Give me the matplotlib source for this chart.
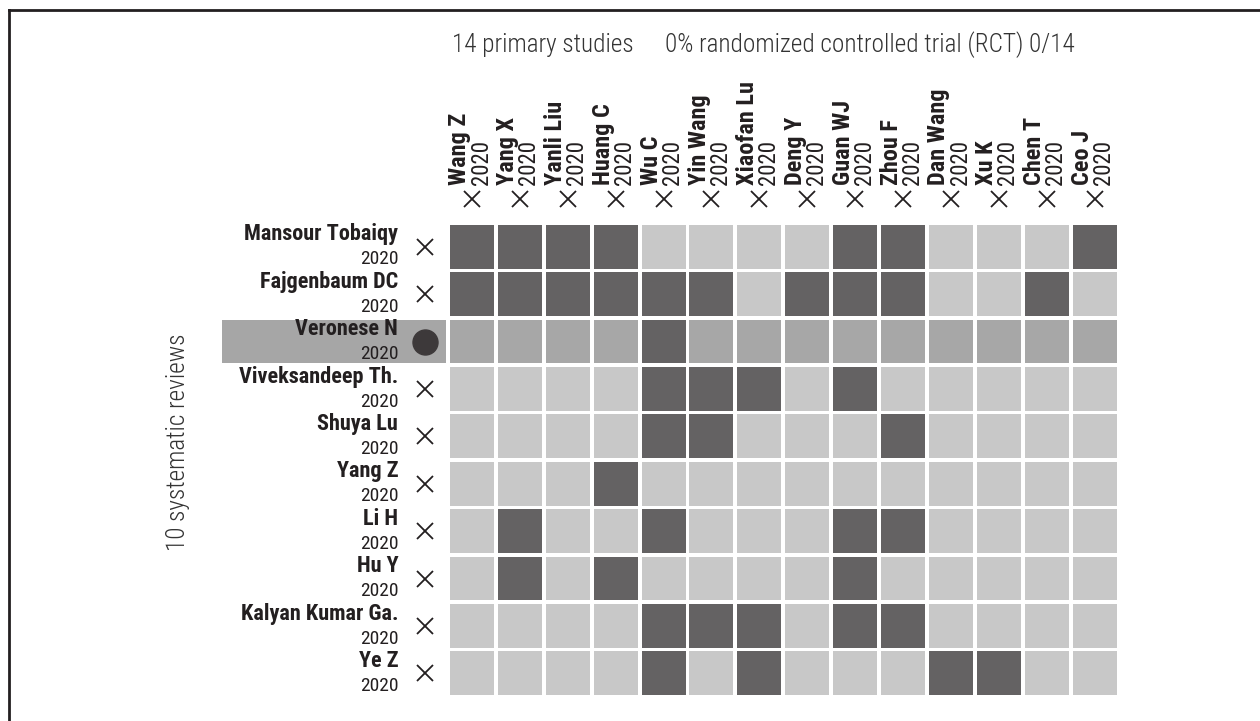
import numpy as np
import matplotlib.pyplot as plt
from matplotlib.patches import Rectangle
from matplotlib.lines import Line2D

plt.rcParams['font.family'] = ['Roboto Condensed', 'DejaVu Sans']

# primary studies (columns) and systematic reviews (rows)
studies = ["Wang Z", "Yang X", "Yanli Liu", "Huang C", "Wu C", "Yin Wang", "Xiaofan Lu",
           "Deng Y", "Guan WJ", "Zhou F", "Dan Wang", "Xu K", "Chen T", "Ceo J"]
study_years = ["2020"] * 14
reviews = ["Mansour Tobaiqy", "Fajgenbaum DC", "Veronese N", "Viveksandeep Th.", "Shuya Lu",
           "Yang Z", "Li H", "Hu Y", "Kalyan Kumar Ga.", "Ye Z"]
review_years = ["2020"] * 10
highlight_row = 2

# 1 = primary study included in the review
included = [
    [1, 1, 1, 1, 0, 0, 0, 0, 1, 1, 0, 0, 0, 1],
    [1, 1, 1, 1, 1, 1, 0, 1, 1, 1, 0, 0, 1, 0],
    [0, 0, 0, 0, 1, 0, 0, 0, 0, 0, 0, 0, 0, 0],
    [0, 0, 0, 0, 1, 1, 1, 0, 1, 0, 0, 0, 0, 0],
    [0, 0, 0, 0, 1, 1, 0, 0, 0, 1, 0, 0, 0, 0],
    [0, 0, 0, 1, 0, 0, 0, 0, 0, 0, 0, 0, 0, 0],
    [0, 1, 0, 0, 1, 0, 0, 0, 1, 1, 0, 0, 0, 0],
    [0, 1, 0, 1, 0, 0, 0, 0, 1, 0, 0, 0, 0, 0],
    [0, 0, 0, 0, 1, 1, 1, 0, 1, 1, 0, 0, 0, 0],
    [0, 0, 0, 0, 1, 0, 1, 0, 0, 0, 1, 1, 0, 0],
]

title_left = "14 primary studies"
title_right = "0% randomized controlled trial (RCT) 0/14"
side_label = "10 systematic reviews"

dark = "#646263"
light = "#c8c8c8"
mid = "#a7a7a7"
ink = "#231f20"

fig = plt.figure(figsize=(12.6, 7.21), dpi=100)
ax = fig.add_axes([448 / 1260, 1 - 697 / 721, 670.6 / 1260, 474 / 721])
ax.set_xlim(-0.5, len(studies) - 0.5)
ax.set_ylim(len(reviews) - 0.5, -0.5)
ax.axis('off')

s = 0.92
for i in range(len(reviews)):
    for j in range(len(studies)):
        if included[i][j]:
            c = dark
        elif i == highlight_row:
            c = mid
        else:
            c = light
        ax.add_patch(Rectangle((j - s / 2, i - s / 2), s, s, facecolor=c, edgecolor='none'))

# highlight band behind the selected review label
ax.add_patch(Rectangle((-5.22, highlight_row - s / 2), 4.68, s, facecolor="#a6a6a6",
                       edgecolor='none', clip_on=False))

# row labels and markers
for i, (name, yr) in enumerate(zip(reviews, review_years)):
    ax.text(-1.54, i - 0.26, name, ha='right', va='center', fontsize=16,
            fontweight='bold', color=ink)
    ax.text(-1.54, i + 0.27, yr, ha='right', va='center', fontsize=14, color=ink)
    if i == highlight_row:
        ax.plot(-0.97, i, marker='o', markersize=18, color="#3d393a", clip_on=False)
    else:
        ax.plot(-0.97, i, marker='x', markersize=11, markeredgewidth=1.3, color=ink,
                clip_on=False)

# column labels and markers
for j, (name, yr) in enumerate(zip(studies, study_years)):
    ax.text(j - 0.25, -1.3, name, rotation=90, ha='center', va='bottom', fontsize=17.5,
            fontweight='bold', color=ink)
    ax.text(j + 0.19, -1.3, yr, rotation=90, ha='center', va='bottom', fontsize=16.5,
            color=ink)
    ax.plot(j, -1.01, marker='x', markersize=11, markeredgewidth=1.3, color=ink,
            clip_on=False)


def fit_text(t, target_px, horizontal=True):
    # scale a text so that its rendered length matches the reference
    r = fig.canvas.get_renderer()
    for _ in range(3):
        bb = t.get_window_extent(renderer=r)
        size = bb.width if horizontal else bb.height
        t.set_fontsize(t.get_fontsize() * target_px / size)


t2 = fig.text(665 / 1260, 1 - 45 / 721, title_right, ha='left', va='center', fontsize=16,
              fontweight='light', color="#333333")
fit_text(t2, 410)
t1 = fig.text(452 / 1260, 1 - 45 / 721, title_left, ha='left', va='center',
              fontsize=t2.get_fontsize(), fontweight='light', color="#333333")
t3 = fig.text(178 / 1260, 1 - 442 / 721, side_label, rotation=90, ha='center', va='center',
              fontsize=t2.get_fontsize(), fontweight='light', color="#333333")

# frame on top and left
fig.add_artist(Line2D([9 / 1260, 1], [1 - 10 / 721, 1 - 10 / 721], color=ink, linewidth=2))
fig.add_artist(Line2D([9 / 1260, 9 / 1260], [0, 1 - 10 / 721], color=ink, linewidth=2))

fig.savefig("out.png", dpi=100)
